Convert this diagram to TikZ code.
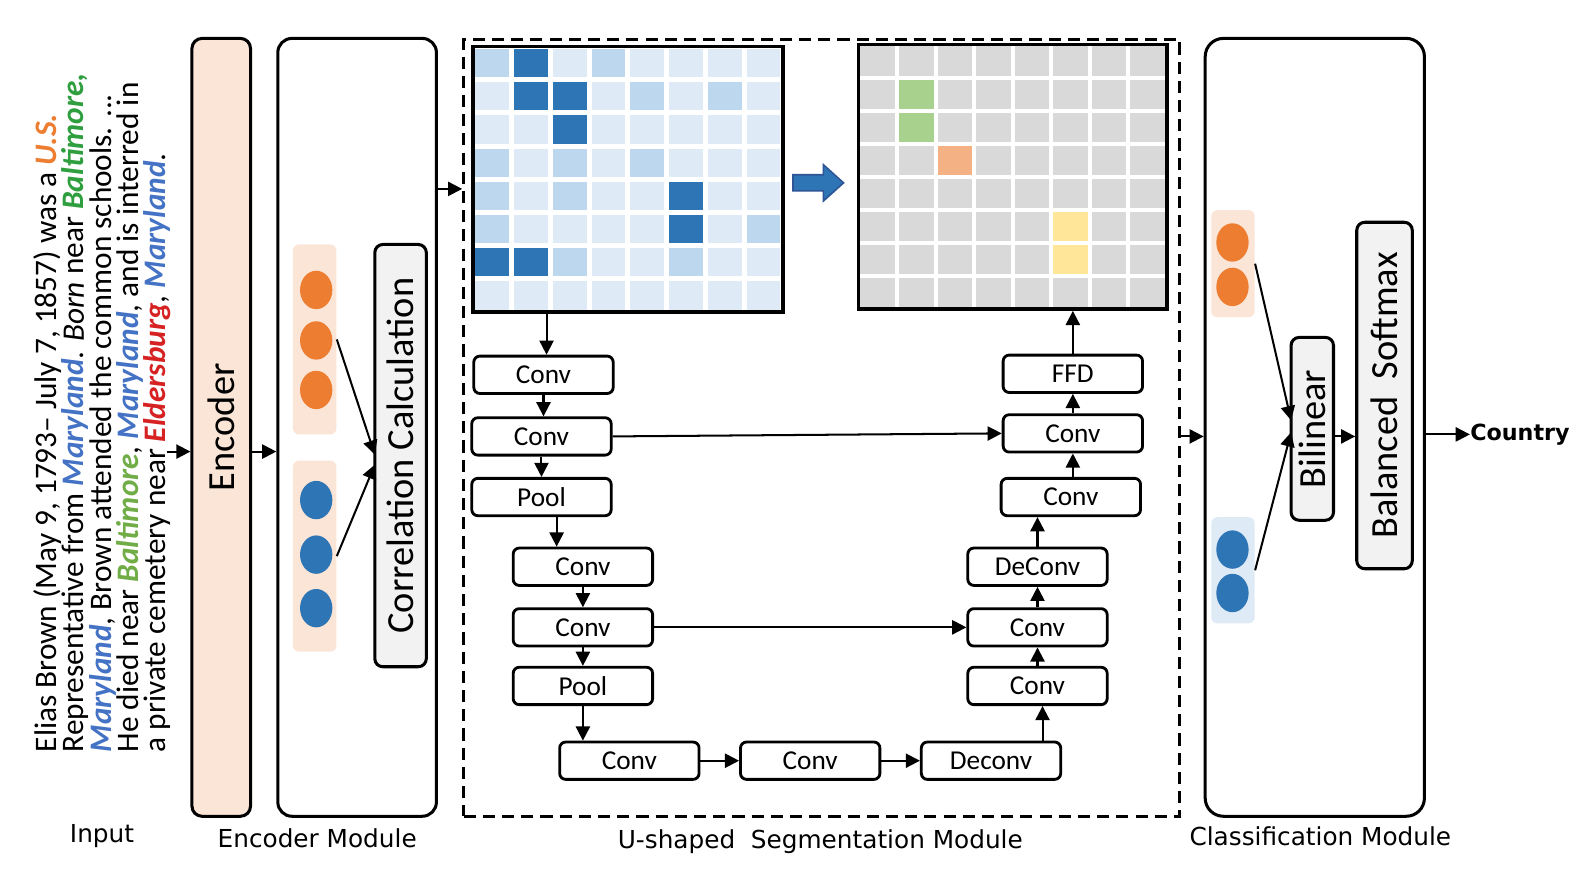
\documentclass[tikz,border=0pt]{standalone}
\usepackage{fontspec}
\setmainfont{Carlito}
\newfontfamily\dejavu{DejaVu Sans}
\usepackage{graphicx}
\usetikzlibrary{arrows.meta,shapes.geometric}
\definecolor{peach}{HTML}{FBE5D6}
\definecolor{boxgray}{HTML}{F2F2F2}
\definecolor{corange}{HTML}{ED7D31}
\definecolor{cblue}{HTML}{2E75B6}
\definecolor{lblue}{HTML}{DEEBF7}
\definecolor{mD}{HTML}{2E75B6}
\definecolor{mM}{HTML}{BDD7EE}
\definecolor{mL}{HTML}{DEEBF7}
\definecolor{gray2}{HTML}{D9D9D9}
\definecolor{cgreen}{HTML}{A9D18E}
\definecolor{cpeach}{HTML}{F4B183}
\definecolor{cyellow}{HTML}{FFE699}
\definecolor{tblue}{HTML}{4472C4}
\definecolor{tgreen}{HTML}{2E9E3E}
\definecolor{tlgreen}{HTML}{70AD47}
\definecolor{tred}{HTML}{D62222}
\definecolor{torange}{HTML}{ED7D31}
\definecolor{arrblue}{HTML}{2F5597}
\newcommand{\cwd}[2]{\textcolor{#1}{\textbf{\textit{#2}}}}
\begin{document}
\begin{tikzpicture}[x=0.5pt,y=-0.5pt,
  modbox/.style={draw, line width=1.5pt, rounded corners=6pt, inner sep=0},
  ubox/.style={draw, line width=1.4pt, rounded corners=3pt, minimum width=69pt, minimum height=18.5pt, inner sep=0, font=\fontsize{13.5}{14}\selectfont},
  graybox/.style={draw, line width=1.5pt, fill=boxgray, rounded corners=4pt, inner sep=0, font=\fontsize{19}{20}\selectfont},
  bubble/.style={ellipse, minimum width=16pt, minimum height=19pt, inner sep=0},
  grp/.style={rounded corners=3pt, inner sep=0, minimum width=21.5pt},
  arr/.style={-{Triangle[length=7pt,width=7pt]}, line width=1pt},
  lab/.style={font=\dejavu\fontsize{12.25}{14}\selectfont, inner sep=0}]
\useasboundingbox (0,0) rectangle (1565,862);
\fill[white] (0,0) rectangle (1565,862);

% input text
\node[rotate=90, anchor=north west, align=left, inner sep=0, font=\fontsize{15.5}{13.5}\selectfont] (inp) at (33,745)
{Elias Brown (May 9, 1793-- July 7, 1857) was a \cwd{torange}{U.S.}\\
Representative from \cwd{tblue}{Maryland}. \textit{Born} near \cwd{tgreen}{Baltimore,}\\
\cwd{tblue}{Maryland}, Brown attended the common schools. ...\\
He died near \cwd{tlgreen}{Baltimore}, \cwd{tblue}{Maryland}, and is interred in\\
a private cemetery near \cwd{tred}{Eldersburg}, \cwd{tblue}{Maryland}.};

% encoder
\node[modbox, fill=peach, rounded corners=5pt, minimum width=29pt, minimum height=385pt, font=\fontsize{19}{20}\selectfont] (enc) at (219,423) {\rotatebox{90}{Encoder}};
\node[modbox, rounded corners=7pt, minimum width=78.5pt, minimum height=385pt] (encmod) at (353.5,423) {};
\node[grp, fill=peach, minimum height=94pt] (og) at (311.5,336) {};
\node[grp, fill=peach, minimum height=94.5pt] (bg) at (311.5,550.5) {};
\node[bubble, fill=corange] (o1) at (313,287) {};
\node[bubble, fill=corange] (o2) at (313,337) {};
\node[bubble, fill=corange] (o3) at (313,386) {};
\node[bubble, fill=cblue] (b1) at (313,495) {};
\node[bubble, fill=cblue] (b2) at (313,549) {};
\node[bubble, fill=cblue] (b3) at (313,602) {};
\node[graybox, minimum width=25.5pt, minimum height=209pt] (corr) at (396.5,451) {\rotatebox{90}{Correlation Calculation}};
\coordinate (e1) at (371,450);
\coordinate (e2) at (371,460);
\draw[arr] (og.east) -- (e1);
\draw[arr] (bg.east) -- (e2);

\coordinate (in0) at (165,447);
\draw[arr] (in0) -- (in0 -| enc.west);
\draw[arr] (enc.east |- in0) -- (encmod.west |- in0);

% segmentation module
\node[draw, line width=1.5pt, dash pattern=on 6pt off 3.5pt, minimum width=354.5pt, minimum height=384.5pt, inner sep=0] (useg) at (813.5,423.5) {};
\coordinate (a2) at (0,187);
\draw[arr] (encmod.east |- a2) -- (useg.west |- a2);

% matrix 1
\foreach \row [count=\r from 0] in {{M,D,L,M,L,L,L,L},{L,D,D,L,M,L,M,L},{L,L,D,L,L,L,L,L},{M,L,M,L,M,L,L,L},{M,L,M,L,L,D,L,L},{M,L,L,L,L,D,L,M},{D,D,M,L,L,M,L,L},{L,L,L,L,L,L,L,L}}{
  \foreach \c [count=\k from 0] in \row {
    \fill[m\c] ({468+\k*38.375+2.5},{46+\r*32.875+2.5}) rectangle ({468+(\k+1)*38.375-2.5},{46+(\r+1)*32.875-2.5});
  }
}
\node[draw, line width=1.75pt, minimum width=153.5pt, minimum height=131.5pt, inner sep=0] (m1) at (621.5,177.5) {};

% blue block arrow
\fill[cblue, draw=arrblue, line width=0.8pt] (785,173) -- (815,173) -- (815,163) -- (835,181) -- (815,199) -- (815,189) -- (785,189) -- cycle;

% matrix 2
\fill[gray2] (850,44) rectangle (1155,306);
\foreach \k/\r/\cc in {1/1/cgreen,1/2/cgreen,2/3/cpeach,5/5/cyellow,5/6/cyellow}
  \fill[\cc] ({850+\k*38.125},{44+\r*32.75}) rectangle ({850+(\k+1)*38.125},{44+(\r+1)*32.75});
\foreach \i in {1,...,7} {
  \draw[white, line width=2pt] ({850+\i*38.125},44) -- ++(0,262);
  \draw[white, line width=2pt] (850,{44+\i*32.75}) -- ++(305,0);
}
\node[draw, line width=1.75pt, minimum width=152.5pt, minimum height=131pt, inner sep=0] (m2) at (1002.5,175) {};

% U-net boxes
\node[ubox] (c1) at (538,371) {Conv};
\node[ubox] (c2) at (536,432) {Conv};
\node[ubox] (p1) at (536,492) {Pool};
\node[ubox] (c3) at (577,561) {Conv};
\node[ubox] (c4) at (577,621) {Conv};
\node[ubox] (p2) at (577,679) {Pool};
\node[ubox] (c5) at (623,753) {Conv};
\node[ubox] (c6) at (802,753) {Conv};
\node[ubox] (dcv) at (981,753) {Deconv};
\node[ubox] (c7) at (1027,679) {Conv};
\node[ubox] (c8) at (1027,621) {Conv};
\node[ubox] (dc) at (1027,561) {DeConv};
\node[ubox] (c9) at (1060,492) {Conv};
\node[ubox] (c10) at (1062,429) {Conv};
\node[ubox] (ffd) at (1062,370) {FFD};

\coordinate (k0) at (541,0);
\coordinate (k1) at (551,0);
\coordinate (k2) at (1032,0);
\draw[arr] (k0 |- m1.south) -- (k0 |- c1.north);
\draw[arr] (c1.south) -- (c1.south |- c2.north);
\draw[arr] (c2.south) -- (c2.south |- p1.north);
\draw[arr] (k1 |- p1.south) -- (k1 |- c3.north);
\draw[arr] (c3.south) -- (c3.south |- c4.north);
\draw[arr] (c4.south) -- (c4.south |- p2.north);
\draw[arr] (p2.south) -- (p2.south |- c5.north);
\draw[arr] (c5.east) -- (c6.west);
\draw[arr] (c6.east) -- (dcv.west);
\draw[arr] (k2 |- dcv.north) -- (k2 |- c7.south);
\draw[arr] (c7.north) -- (c7.north |- c8.south);
\draw[arr] (c8.north) -- (c8.north |- dc.south);
\draw[arr] (dc.north) -- (dc.north |- c9.south);
\draw[arr] (c10.south |- c9.north) -- (c10.south);
\draw[arr] (c10.north) -- (ffd.south);
\draw[arr] (ffd.north) -- (ffd.north |- m2.south);
\draw[arr] (c2.east) -- (c10.west);
\draw[arr] (c4.east) -- (c8.west);

% classification module
\node[modbox, rounded corners=9pt, minimum width=108.5pt, minimum height=385pt] (cls) at (1301.5,423) {};
\coordinate (a3) at (0,432);
\draw[arr] (useg.east |- a3) -- (cls.west |- a3);
\node[grp, fill=peach, minimum height=53pt] (cog) at (1220.5,261) {};
\node[grp, fill=lblue, minimum height=52.5pt] (cbg) at (1220.5,564.5) {};
\node[bubble, fill=corange] (co1) at (1220,240) {};
\node[bubble, fill=corange] (co2) at (1220,284) {};
\node[bubble, fill=cblue] (cb1) at (1220,544) {};
\node[bubble, fill=cblue] (cb2) at (1220,587) {};
\node[graybox, minimum width=21pt, minimum height=90.5pt] (bil) at (1299,424.5) {\rotatebox{90}{Bilinear}};
\node[graybox, minimum width=27.5pt, minimum height=171.5pt] (bsm) at (1370.5,391.5) {\rotatebox{90}{Balanced\ \ Softmax}};
\coordinate (t1) at (1278,416);
\coordinate (t2) at (1278,428);
\draw[arr] (cog.east) -- (t1);
\draw[arr] (cbg.east) -- (t2);
\draw[arr] (bil.east |- a3) -- (bsm.west |- a3);
\node[font=\dejavu\bfseries\fontsize{11}{13}\selectfont, anchor=west, inner sep=0] (ctry) at (1455,430) {Country};
\draw[arr] (cls.east |- ctry.west) -- (ctry.west);

% labels
\node[lab] (lin) at (101,828) {Input};
\node[lab] (lenc) at (314,830) {Encoder Module};
\node[lab] (lseg) at (812,833) {U-shaped\ \ Segmentation Module};
\node[lab] (lcls) at (1307,828) {Classification Module};
\end{tikzpicture}
\end{document}
